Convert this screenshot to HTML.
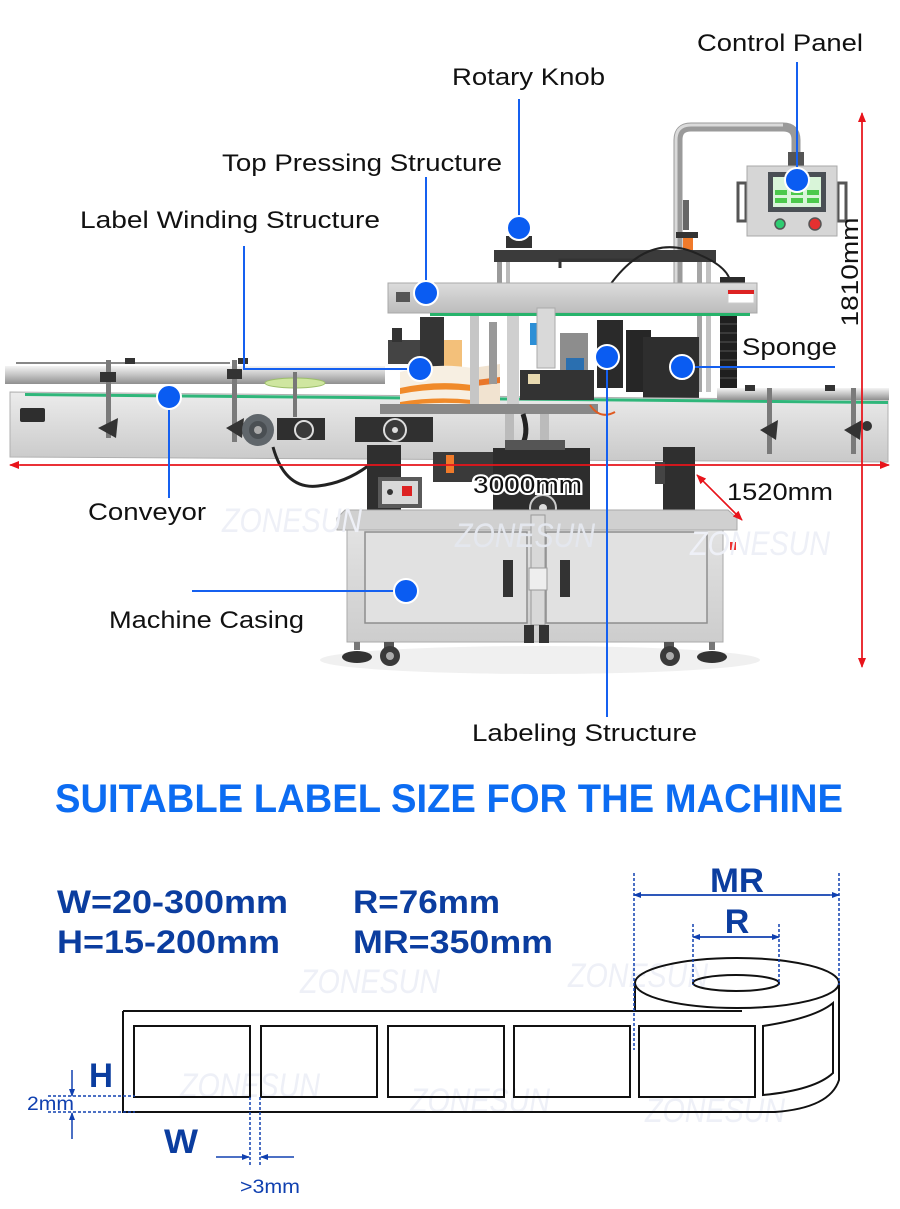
<!DOCTYPE html>
<html><head><meta charset="utf-8">
<style>
html,body{margin:0;padding:0;background:#fff;}
svg{display:block;}
.lb{font-family:"Liberation Sans",sans-serif;font-size:24px;fill:#111;}
.nv{font-family:"Liberation Sans",sans-serif;font-weight:bold;fill:#0b3d9f;}
.wm{font-family:"Liberation Sans",sans-serif;font-style:italic;font-size:34px;fill:#eef0f7;}
</style></head>
<body>
<svg width="900" height="1209" viewBox="0 0 900 1209" xmlns="http://www.w3.org/2000/svg">
<defs>
<linearGradient id="gPanel" x1="0" y1="0" x2="0" y2="1"><stop offset="0" stop-color="#ececec"/><stop offset="1" stop-color="#c9c9c9"/></linearGradient>
<linearGradient id="gRail" x1="0" y1="0" x2="0" y2="1"><stop offset="0" stop-color="#f4f4f4"/><stop offset="0.5" stop-color="#c4c4c4"/><stop offset="1" stop-color="#8f8f8f"/></linearGradient>
<linearGradient id="gCab" x1="0" y1="0" x2="0" y2="1"><stop offset="0" stop-color="#e2e2e2"/><stop offset="1" stop-color="#cdcdcd"/></linearGradient>
<linearGradient id="gPlate" x1="0" y1="0" x2="0" y2="1"><stop offset="0" stop-color="#dcdcdc"/><stop offset="1" stop-color="#bcbcbc"/></linearGradient>
<marker id="ar" markerWidth="10" markerHeight="8" refX="9" refY="4" orient="auto" markerUnits="userSpaceOnUse"><path d="M0,0 L10,4 L0,8 z" fill="#e8141b"/></marker>
<marker id="ab" markerWidth="8" markerHeight="6" refX="7" refY="3" orient="auto" markerUnits="userSpaceOnUse"><path d="M0,0 L8,3 L0,6 z" fill="#1040b0"/></marker>
</defs>

<ellipse cx="540" cy="660" rx="220" ry="14" fill="#f0f0f0"/>

<!-- ===== Pipe & control panel ===== -->
<path d="M678 290 L678 140 Q678 127 691 127 L783 127 Q796 127 796 140 L796 162" fill="none" stroke="#9a9a9a" stroke-width="9"/>
<path d="M676 290 L676 140 Q676 125 691 125 L783 125" fill="none" stroke="#dadada" stroke-width="3"/>
<rect x="788" y="152" width="16" height="16" fill="#555"/>
<rect x="738" y="183" width="8" height="38" fill="none" stroke="#555" stroke-width="3"/>
<rect x="838" y="183" width="8" height="38" fill="none" stroke="#555" stroke-width="3"/>
<rect x="747" y="166" width="90" height="70" fill="#d6d6d6" stroke="#a8a8a8"/>
<rect x="768" y="172" width="58" height="40" fill="#4a4f55"/>
<rect x="773" y="177" width="48" height="30" fill="#d9f5d9"/>
<rect x="775" y="190" width="12" height="5" fill="#4cc94c"/><rect x="791" y="190" width="12" height="5" fill="#4cc94c"/><rect x="807" y="190" width="12" height="5" fill="#4cc94c"/>
<rect x="775" y="198" width="12" height="5" fill="#4cc94c"/><rect x="791" y="198" width="12" height="5" fill="#4cc94c"/><rect x="807" y="198" width="12" height="5" fill="#4cc94c"/>
<circle cx="780" cy="224" r="5" fill="#2ecc71" stroke="#555" stroke-width="1.5"/>
<circle cx="815" cy="224" r="6" fill="#e53030" stroke="#555" stroke-width="1.5"/>
<rect x="683" y="200" width="6" height="30" fill="#666"/>
<rect x="676" y="232" width="22" height="6" fill="#333"/>
<rect x="683" y="238" width="10" height="12" fill="#f07a2a"/>

<!-- ===== Top dark bar ===== -->
<rect x="497" y="262" width="5" height="24" fill="#9a9a9a"/><rect x="506" y="262" width="4" height="24" fill="#bbb"/>
<rect x="697" y="262" width="5" height="130" fill="#a5a5a5"/><rect x="706" y="262" width="5" height="130" fill="#c2c2c2"/>
<rect x="494" y="250" width="222" height="12" fill="#3b3b3b"/>
<rect x="506" y="236" width="26" height="12" fill="#333"/>
<path d="M560 268 L560 260 L640 260" fill="none" stroke="#333" stroke-width="3"/>
<path d="M610 285 Q650 230 700 255 Q735 270 730 290" fill="none" stroke="#222" stroke-width="2"/>
<rect x="720" y="277" width="25" height="10" fill="#2b2b2b"/>

<!-- ===== Top pressing plate ===== -->
<rect x="388" y="283" width="369" height="30" fill="url(#gPlate)" stroke="#a8a8a8"/>
<rect x="396" y="292" width="14" height="10" fill="#555"/>
<rect x="728" y="290" width="26" height="13" fill="#fff" stroke="#ccc"/><rect x="728" y="290" width="26" height="4" fill="#d22"/>
<rect x="430" y="313" width="320" height="3" fill="#27b36b"/>

<rect x="720" y="316" width="17" height="72" fill="#1f1f1f"/>
<g stroke="#555" stroke-width="1"><line x1="720" y1="324" x2="737" y2="324"/><line x1="720" y1="333" x2="737" y2="333"/><line x1="720" y1="342" x2="737" y2="342"/><line x1="720" y1="351" x2="737" y2="351"/><line x1="720" y1="360" x2="737" y2="360"/><line x1="720" y1="369" x2="737" y2="369"/><line x1="720" y1="378" x2="737" y2="378"/></g>

<rect x="626" y="330" width="25" height="62" fill="#262626"/>
<rect x="643" y="337" width="56" height="68" fill="#2e2e2e"/>
<rect x="655" y="405" width="20" height="10" fill="#333"/>
<circle cx="664" cy="422" r="10" fill="#2a2a2a"/><circle cx="664" cy="422" r="4" fill="#bbb"/>

<!-- ===== Conveyor ===== -->
<polygon points="10,392 888,400 888,462 10,457" fill="url(#gPanel)" stroke="#b0b0b0"/>
<polygon points="25,393 888,401 888,404 25,396" fill="#2fb67a"/>
<rect x="5" y="366" width="380" height="18" fill="url(#gRail)"/>
<line x1="16" y1="363" x2="230" y2="363" stroke="#888" stroke-width="2"/>
<rect x="717" y="388" width="172" height="12" fill="url(#gRail)"/>
<rect x="20" y="408" width="25" height="14" rx="2" fill="#2e2e2e"/>
<rect x="106" y="360" width="5" height="78" fill="#7a7a7a"/><path d="M98 428 L118 418 L116 438 z" fill="#333"/><rect x="100" y="372" width="16" height="10" fill="#333"/>
<rect x="232" y="360" width="5" height="82" fill="#7a7a7a"/><path d="M226 428 L244 418 L242 438 z" fill="#333"/><rect x="227" y="369" width="15" height="10" fill="#333"/>
<rect x="125" y="358" width="10" height="6" fill="#333"/><rect x="238" y="358" width="10" height="6" fill="#333"/>
<ellipse cx="295" cy="383" rx="30" ry="5" fill="#cfe6a0" stroke="#9cbf6a"/>
<rect x="293" y="372" width="4" height="45" fill="#777"/>
<circle cx="258" cy="430" r="16" fill="#60666b"/><circle cx="258" cy="430" r="9" fill="#4a4f53"/><circle cx="258" cy="430" r="4" fill="#aaa"/>
<rect x="277" y="418" width="48" height="22" fill="#2f2f2f"/><circle cx="304" cy="430" r="9" fill="#3a3a3a" stroke="#ddd" stroke-width="2"/>
<path d="M273 447 Q285 490 318 486 Q345 483 368 466" fill="none" stroke="#222" stroke-width="3"/>
<rect x="767" y="388" width="5" height="66" fill="#7a7a7a"/><path d="M760 430 L778 420 L776 440 z" fill="#333"/>
<rect x="851" y="388" width="5" height="66" fill="#7a7a7a"/><path d="M844 430 L862 420 L860 440 z" fill="#333"/><circle cx="867" cy="426" r="5" fill="#333"/>
<rect x="745" y="385" width="10" height="6" fill="#333"/><rect x="825" y="385" width="10" height="6" fill="#333"/>

<!-- ===== Center mechanism ===== -->
<rect x="388" y="340" width="34" height="24" fill="#444"/>
<rect x="392" y="328" width="10" height="14" fill="#333"/>
<rect x="420" y="317" width="24" height="55" fill="#343434"/>
<rect x="444" y="340" width="18" height="30" fill="#f3c07a"/>
<path d="M400 372 Q436 362 472 368 L472 408 Q436 402 400 410 z" fill="#f7efe2"/>
<path d="M400 388 Q436 380 472 385 L472 391 Q436 387 400 394 z" fill="#f08a2a"/>
<path d="M400 402 Q436 396 472 400 L472 404 Q436 401 400 406 z" fill="#f08a2a"/>
<path d="M472 368 L500 364 L500 404 L472 408 z" fill="#f1e3d0"/>
<path d="M476 380 L500 377 L500 383 L476 386 z" fill="#e9772a"/>
<rect x="470" y="316" width="9" height="95" fill="#c6c6c6"/>
<rect x="489" y="322" width="8" height="62" fill="#999"/>
<rect x="507" y="316" width="12" height="95" fill="#cfcfcf"/>
<rect x="530" y="323" width="7" height="22" fill="#2d8fd6"/>
<rect x="537" y="308" width="18" height="60" fill="#d9d9d9" stroke="#aaa"/>
<rect x="560" y="333" width="28" height="38" fill="#8d8d8d"/>
<rect x="566" y="358" width="18" height="12" fill="#2a6fb0"/>
<rect x="520" y="370" width="74" height="30" fill="#333"/>
<rect x="528" y="374" width="12" height="10" fill="#e8d9b0"/>
<rect x="597" y="320" width="26" height="68" fill="#2a2a2a"/>
<rect x="380" y="404" width="218" height="10" fill="#888"/>
<path d="M590 405 Q600 420 615 412" fill="none" stroke="#e05a20" stroke-width="2"/>
<rect x="505" y="414" width="9" height="36" fill="#bbb"/><rect x="540" y="414" width="9" height="36" fill="#bbb"/>
<path d="M523 414 Q530 435 520 448" fill="none" stroke="#222" stroke-width="5"/>
<rect x="355" y="417" width="78" height="25" fill="#303030"/>
<circle cx="395" cy="430" r="11" fill="#3a3a3a" stroke="#ddd" stroke-width="2"/><circle cx="395" cy="430" r="3" fill="#ddd"/>

<rect x="367" y="445" width="34" height="65" fill="#2f2f2f"/>
<rect x="378" y="477" width="44" height="31" fill="#5a5a5a"/>
<rect x="382" y="481" width="36" height="23" fill="#d8d8d8"/>
<circle cx="390" cy="492" r="3" fill="#333"/><rect x="402" y="486" width="10" height="10" fill="#d22"/>
<rect x="433" y="452" width="62" height="30" fill="#3a3a3a"/>
<rect x="446" y="455" width="8" height="18" fill="#f07a2a"/>
<rect x="493" y="448" width="97" height="62" fill="#2d2d2d"/>
<rect x="505" y="440" width="60" height="10" fill="#555"/>
<circle cx="543" cy="508" r="13" fill="#3a3a3a" stroke="#ccc" stroke-width="2"/><circle cx="543" cy="508" r="4" fill="#ddd"/>
<rect x="663" y="447" width="32" height="63" fill="#2f2f2f"/>
<rect x="655" y="462" width="10" height="22" fill="#444"/>

<!-- ===== Cabinet ===== -->
<polygon points="345,510 728,510 737,518 737,530 337,530 337,518" fill="#d0d0d0" stroke="#aaa"/>
<rect x="347" y="530" width="376" height="112" fill="url(#gCab)" stroke="#aaa"/>
<rect x="365" y="532" width="162" height="91" fill="#e1e1e1" stroke="#8e8e8e" stroke-width="1.5"/>
<rect x="546" y="532" width="161" height="91" fill="#e1e1e1" stroke="#8e8e8e" stroke-width="1.5"/>
<rect x="503" y="560" width="10" height="37" fill="#333"/>
<rect x="560" y="560" width="10" height="37" fill="#333"/>
<rect x="531" y="515" width="14" height="110" fill="#d8d8d8" stroke="#999"/>
<rect x="529" y="568" width="18" height="22" fill="#eee" stroke="#999"/>
<rect x="524" y="625" width="10" height="18" fill="#333"/><rect x="539" y="625" width="10" height="18" fill="#333"/>
<rect x="730" y="542" width="6" height="8" fill="#e33"/>
<rect x="354" y="642" width="6" height="8" fill="#777"/><ellipse cx="357" cy="657" rx="15" ry="6" fill="#333"/>
<rect x="384" y="642" width="10" height="6" fill="#555"/><circle cx="390" cy="656" r="10" fill="#3a3a3a"/><circle cx="390" cy="656" r="4" fill="#aaa"/>
<rect x="664" y="642" width="10" height="6" fill="#555"/><circle cx="670" cy="656" r="10" fill="#3a3a3a"/><circle cx="670" cy="656" r="4" fill="#aaa"/>
<rect x="709" y="642" width="6" height="8" fill="#777"/><ellipse cx="712" cy="657" rx="15" ry="6" fill="#333"/>

<text class="wm" x="222" y="532" textLength="140" lengthAdjust="spacingAndGlyphs">ZONESUN</text>
<text class="wm" x="455" y="547" textLength="140" lengthAdjust="spacingAndGlyphs" style="fill:#e4e7ee">ZONESUN</text>
<text class="wm" x="690" y="555" textLength="140" lengthAdjust="spacingAndGlyphs">ZONESUN</text>

<!-- ===== Red dimension lines ===== -->
<line x1="20" y1="465" x2="889" y2="465" stroke="#e8141b" stroke-width="1.5" marker-end="url(#ar)"/>
<line x1="880" y1="465" x2="10" y2="465" stroke="#e8141b" stroke-width="1.5" marker-end="url(#ar)"/>
<line x1="862" y1="660" x2="862" y2="113" stroke="#e8141b" stroke-width="1.5" marker-end="url(#ar)"/>
<line x1="862" y1="120" x2="862" y2="667" stroke="#e8141b" stroke-width="1.5" marker-end="url(#ar)"/>
<line x1="735" y1="513" x2="697" y2="475" stroke="#e8141b" stroke-width="1.5" marker-end="url(#ar)"/>
<line x1="704" y1="482" x2="742" y2="520" stroke="#e8141b" stroke-width="1.5" marker-end="url(#ar)"/>

<!-- ===== Blue connectors ===== -->
<g stroke="#1560f0" stroke-width="2" fill="none">
<line x1="797" y1="62" x2="797" y2="170"/>
<line x1="519" y1="99" x2="519" y2="218"/>
<line x1="426" y1="177" x2="426" y2="283"/>
<polyline points="244,246 244,369 410,369"/>
<line x1="694" y1="367" x2="835" y2="367"/>
<line x1="169" y1="409" x2="169" y2="498"/>
<line x1="192" y1="591" x2="396" y2="591"/>
<line x1="607" y1="369" x2="607" y2="717"/>
</g>
<g fill="#0a5cf2" stroke="#fff" stroke-width="2">
<circle cx="797" cy="180" r="12"/>
<circle cx="519" cy="228" r="12"/>
<circle cx="426" cy="293" r="12"/>
<circle cx="420" cy="369" r="12"/>
<circle cx="607" cy="357" r="12"/>
<circle cx="682" cy="367" r="12"/>
<circle cx="169" cy="397" r="12"/>
<circle cx="406" cy="591" r="12"/>
</g>

<!-- ===== Labels ===== -->
<text class="lb" x="697" y="51" textLength="166" lengthAdjust="spacingAndGlyphs">Control Panel</text>
<text class="lb" x="452" y="85" textLength="153" lengthAdjust="spacingAndGlyphs">Rotary Knob</text>
<text class="lb" x="222" y="171" textLength="280" lengthAdjust="spacingAndGlyphs">Top Pressing Structure</text>
<text class="lb" x="80" y="228" textLength="300" lengthAdjust="spacingAndGlyphs">Label Winding Structure</text>
<text class="lb" x="742" y="355" textLength="95" lengthAdjust="spacingAndGlyphs">Sponge</text>
<text class="lb" x="88" y="520" textLength="118" lengthAdjust="spacingAndGlyphs">Conveyor</text>
<text class="lb" x="109" y="628" textLength="195" lengthAdjust="spacingAndGlyphs">Machine Casing</text>
<text class="lb" x="472" y="741" textLength="225" lengthAdjust="spacingAndGlyphs">Labeling Structure</text>
<text class="lb" x="727" y="500" textLength="106" lengthAdjust="spacingAndGlyphs">1520mm</text>
<text class="lb" x="473" y="493" textLength="109" lengthAdjust="spacingAndGlyphs" stroke="#fff" stroke-width="4" paint-order="stroke" style="fill:#111">3000mm</text>
<text class="lb" transform="translate(858,272) rotate(-90)" text-anchor="middle" textLength="109" lengthAdjust="spacingAndGlyphs">1810mm</text>

<text x="55" y="812" font-family="Liberation Sans, sans-serif" font-weight="bold" font-size="40" fill="#0c6cf2" textLength="788" lengthAdjust="spacingAndGlyphs">SUITABLE LABEL SIZE FOR THE MACHINE</text>

<text class="nv" x="57" y="913" font-size="32" textLength="231" lengthAdjust="spacingAndGlyphs">W=20-300mm</text>
<text class="nv" x="57" y="953" font-size="32" textLength="223" lengthAdjust="spacingAndGlyphs">H=15-200mm</text>
<text class="nv" x="353" y="913" font-size="32" textLength="147" lengthAdjust="spacingAndGlyphs">R=76mm</text>
<text class="nv" x="353" y="953" font-size="32" textLength="200" lengthAdjust="spacingAndGlyphs">MR=350mm</text>

<text class="wm" x="300" y="993" textLength="140" lengthAdjust="spacingAndGlyphs">ZONESUN</text>
<text class="wm" x="568" y="987" textLength="140" lengthAdjust="spacingAndGlyphs">ZONESUN</text>
<text class="wm" x="180" y="1097" textLength="140" lengthAdjust="spacingAndGlyphs">ZONESUN</text>
<text class="wm" x="410" y="1112" textLength="140" lengthAdjust="spacingAndGlyphs">ZONESUN</text>
<text class="wm" x="645" y="1122" textLength="140" lengthAdjust="spacingAndGlyphs">ZONESUN</text>

<!-- ===== Label roll drawing ===== -->
<g fill="none" stroke="#111" stroke-width="2">
<path d="M123 1011 L742 1011"/>
<path d="M123 1011 L123 1112 L775 1112 Q830 1108 839 1080 L839 983"/>
<line x1="635" y1="983" x2="635" y2="1011"/>
<ellipse cx="737" cy="983" rx="102" ry="25"/>
<ellipse cx="736" cy="983" rx="43" ry="8"/>
<rect x="134" y="1026" width="116" height="71"/>
<rect x="261" y="1026" width="116" height="71"/>
<rect x="388" y="1026" width="116" height="71"/>
<rect x="514" y="1026" width="116" height="71"/>
<rect x="639" y="1026" width="116" height="71"/>
<path d="M763 1026 Q815 1018 833 1003 L833 1073 Q815 1090 763 1095 Z"/>
</g>

<g stroke="#1040b0" stroke-width="1.5" fill="none">
<line x1="634" y1="873" x2="634" y2="1050" stroke-dasharray="3,2"/>
<line x1="839" y1="873" x2="839" y2="985" stroke-dasharray="3,2"/>
<line x1="693" y1="924" x2="693" y2="985" stroke-dasharray="3,2"/>
<line x1="779" y1="924" x2="779" y2="985" stroke-dasharray="3,2"/>
<line x1="640" y1="895" x2="839" y2="895" marker-end="url(#ab)"/>
<line x1="830" y1="895" x2="634" y2="895" marker-end="url(#ab)"/>
<line x1="700" y1="937" x2="779" y2="937" marker-end="url(#ab)"/>
<line x1="772" y1="937" x2="693" y2="937" marker-end="url(#ab)"/>
<line x1="48" y1="1096" x2="135" y2="1096" stroke-dasharray="3,2"/>
<line x1="48" y1="1112" x2="135" y2="1112" stroke-dasharray="3,2"/>
<line x1="72" y1="1070" x2="72" y2="1096" marker-end="url(#ab)"/>
<line x1="72" y1="1139" x2="72" y2="1113" marker-end="url(#ab)"/>
<line x1="250" y1="1097" x2="250" y2="1167" stroke-dasharray="3,2"/>
<line x1="260" y1="1097" x2="260" y2="1167" stroke-dasharray="3,2"/>
<line x1="216" y1="1157" x2="249" y2="1157" marker-end="url(#ab)"/>
<line x1="294" y1="1157" x2="261" y2="1157" marker-end="url(#ab)"/>
</g>
<text class="nv" x="737" y="892" font-size="34" text-anchor="middle" textLength="54" lengthAdjust="spacingAndGlyphs">MR</text>
<text class="nv" x="737" y="933" font-size="34" text-anchor="middle">R</text>
<text class="nv" x="89" y="1087" font-size="34" textLength="24" lengthAdjust="spacingAndGlyphs">H</text>
<text class="nv" x="164" y="1153" font-size="34" textLength="34" lengthAdjust="spacingAndGlyphs">W</text>
<text x="27" y="1110" font-family="Liberation Sans, sans-serif" font-size="19" fill="#1040b0" textLength="47" lengthAdjust="spacingAndGlyphs">2mm</text>
<text x="240" y="1193" font-family="Liberation Sans, sans-serif" font-size="19" fill="#1040b0" textLength="60" lengthAdjust="spacingAndGlyphs">&gt;3mm</text>
</svg>
</body></html>
